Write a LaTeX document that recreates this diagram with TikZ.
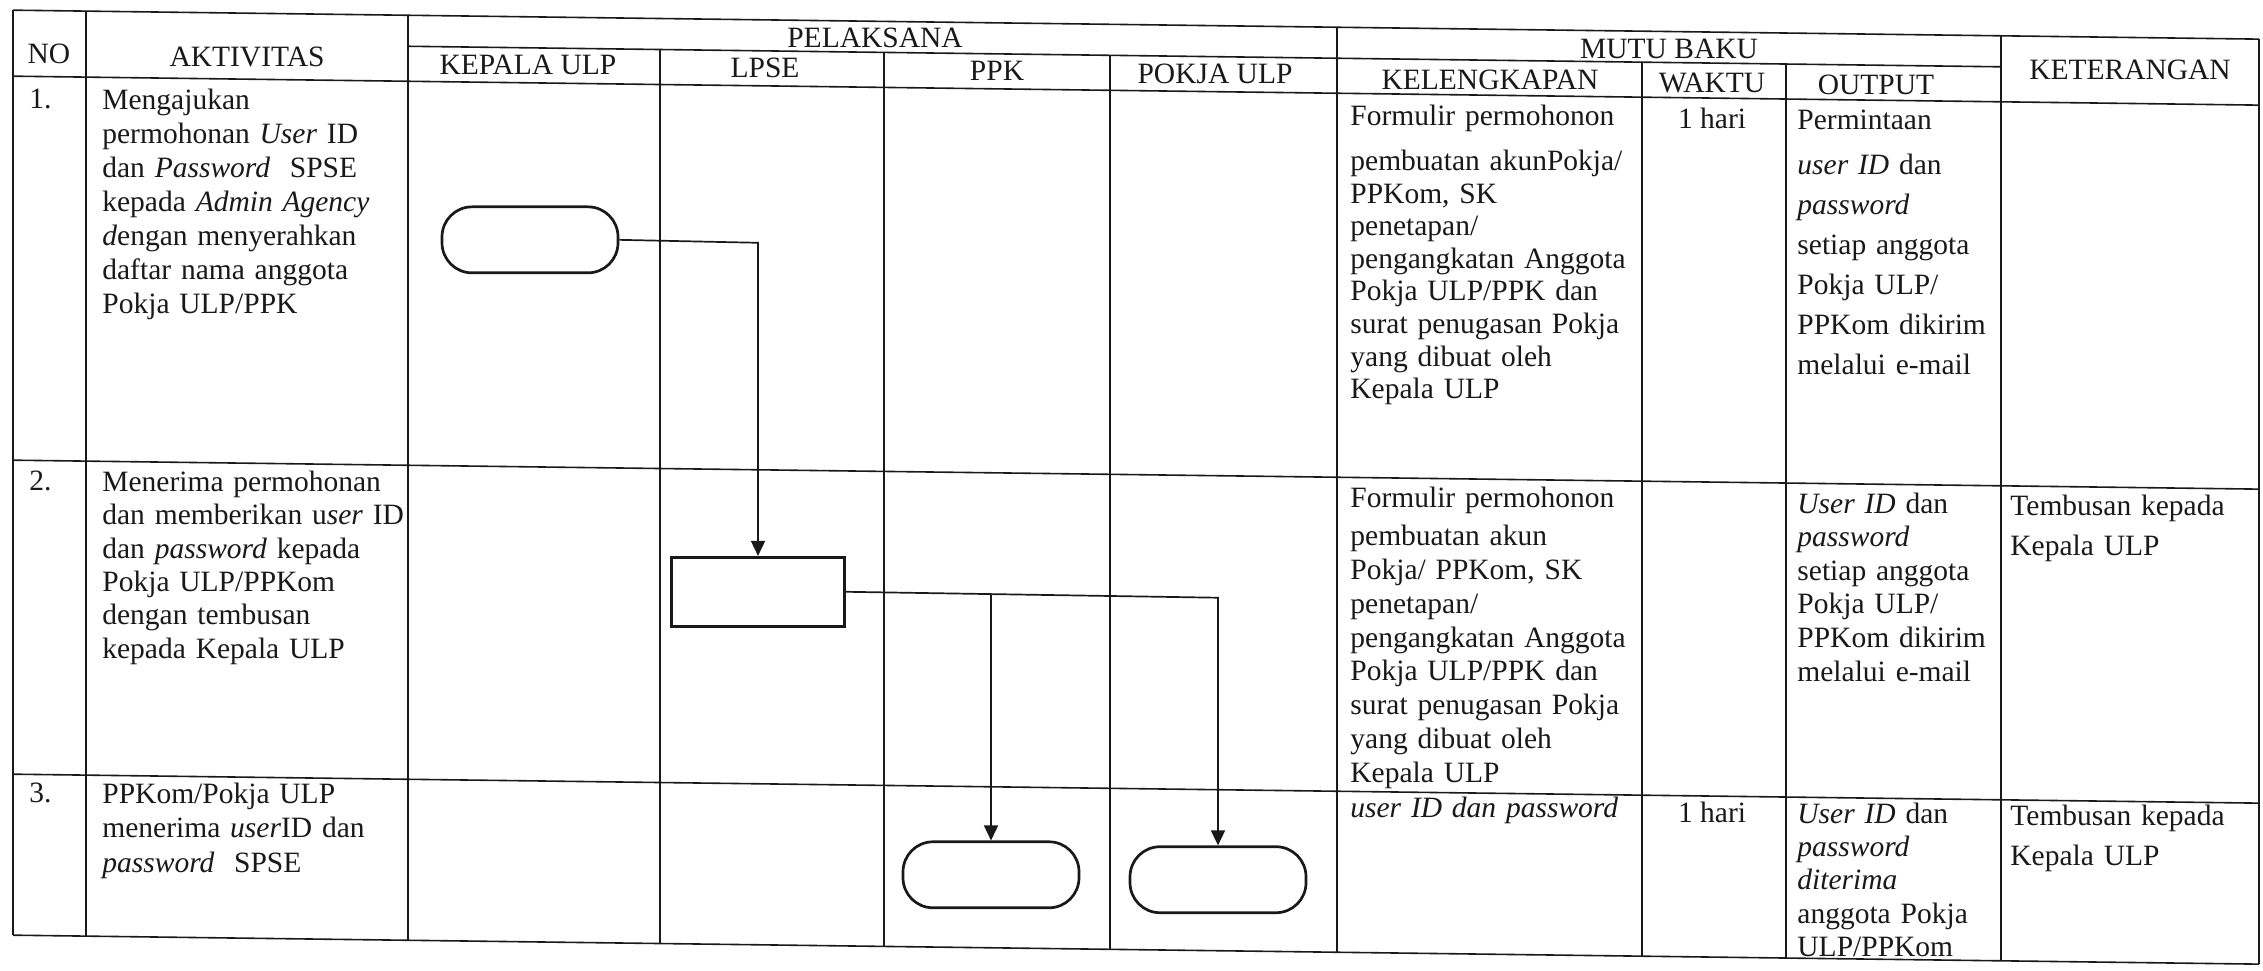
\documentclass[tikz,border=0pt]{standalone}
\usepackage{fontspec}
\setmainfont{Liberation Serif}
\usetikzlibrary{arrows.meta}

\definecolor{ink}{gray}{0.1}

\tikzset{
  rule/.style={draw=ink, line width=0.8pt},
  head/.style={text=ink, inner sep=0pt, anchor=base, font=\fontsize{14.75pt}{17pt}\selectfont},
  cell/.style={text=ink, inner sep=0pt, anchor=base west, align=left, text width=#1,
               font=\fontsize{14.75pt}{17pt}\selectfont},
  lead/.style={font=\fontsize{14.75pt}{#1}\selectfont},
  term/.style={draw=ink, line width=1.35pt, rounded corners=15pt, minimum width=88pt,
               minimum height=33pt, inner sep=0pt},
  proc/.style={draw=ink, line width=1.35pt, minimum width=86.5pt, minimum height=34.5pt,
               inner sep=0pt},
  link/.style={draw=ink, line width=0.85pt, -{Triangle[length=7.5pt,width=7pt]}},
}

\begin{document}
\begin{tikzpicture}[x=0.5pt, y=-0.5pt]
\useasboundingbox (0,0) rectangle (2263,970);
\fill[white] (0,0) rectangle (2263,970);

\begin{scope}[yslant=-0.0129]
% ---- table rules ----
\draw[rule] (13,10) -- (2259,10);
\draw[rule] (408,41) -- (2001,41);
\draw[rule] (13,76) -- (2259,76);
\draw[rule] (13,460) -- (2259,460);
\draw[rule] (13,774) -- (2259,774);
\draw[rule] (13,935) -- (2259,935);
\foreach \x in {13,86,408,1337,2001,2259} \draw[rule] (\x,10) -- (\x,935);
\foreach \x in {660,884,1110,1642,1786} \draw[rule] (\x,41) -- (\x,935);

% ---- header ----
\node[head] (hno)   at (49,63)   {NO};
\node[head] (hakt)  at (247,63)  {AKTIVITAS};
\node[head] (hpel)  at (875,36)  {PELAKSANA};
\node[head] (hmutu) at (1669,37) {MUTU BAKU};
\node[head] (hket)  at (2130,52) {KETERANGAN};
\node[head] (hkep)  at (528,68)  {KEPALA ULP};
\node[head] (hlpse) at (765,68)  {LPSE};
\node[head] (hppk)  at (997,68)  {PPK};
\node[head] (hpok)  at (1215,68) {POKJA ULP};
\node[head] (hkel)  at (1490,70) {KELENGKAPAN};
\node[head] (hwak)  at (1712,70) {WAKTU};
\node[head] (hout)  at (1876,70) {OUTPUT};

% ---- row 1 ----
\node[cell=30pt] (n1) at (29,108) {1.};
\node[cell=152pt] (a1) at (102,108) {Mengajukan\\
  permohonan \textit{User} ID\\
  dan \textit{Password}\ \ SPSE\\
  kepada \textit{Admin Agency}\\
  \textit{d}engan menyerahkan\\
  daftar nama anggota\\
  Pokja ULP/PPK};
\node[cell=145pt, lead=16.3pt] (k1) at (1350,108) {Formulir permohonon\\[6.2pt]
  pembuatan akunPokja/\\
  PPKom, SK\\
  penetapan/\\
  pengangkatan Anggota\\
  Pokja ULP/PPK dan\\
  surat penugasan Pokja\\
  yang dibuat oleh\\
  Kepala ULP};
\node[head] (w1) at (1712,106) {1 hari};
\node[cell=100pt, lead=20pt] (o1) at (1797,106) {Permintaan\\[2.5pt]
  \textit{user ID} dan\\
  \textit{password}\\
  setiap anggota\\
  Pokja ULP/\\
  PPKom dikirim\\
  melalui e-mail};

% ---- row 2 ----
\node[cell=30pt] (n2) at (29,490) {2.};
\node[cell=152pt, lead=16.7pt] (a2) at (102,490) {Menerima permohonan\\
  dan memberikan u\textit{ser} ID\\
  dan \textit{password} kepada\\
  Pokja ULP/PPKom\\
  dengan tembusan\\
  kepada Kepala ULP};
\node[cell=145pt, lead=16.95pt] (k2) at (1350,490) {Formulir permohonon\\[2pt]
  pembuatan akun\\
  Pokja/ PPKom, SK\\
  penetapan/\\
  pengangkatan Anggota\\
  Pokja ULP/PPK dan\\
  surat penugasan Pokja\\
  yang dibuat oleh\\
  Kepala ULP};
\node[cell=100pt, lead=16.8pt] (o2) at (1797,490) {\textit{User ID} dan\\
  \textit{password}\\
  setiap anggota\\
  Pokja ULP/\\
  PPKom dikirim\\
  melalui e-mail};
\node[cell=120pt, lead=20pt] (t2) at (2010,490) {Tembusan kepada\\
  Kepala ULP};

% ---- row 3 ----
\node[cell=30pt] (n3) at (29,802) {3.};
\node[cell=152pt, lead=17.2pt] (a3) at (102,802) {PPKom/Pokja ULP\\
  menerima \textit{user}ID dan\\
  \textit{password}\ \ SPSE};
\node[cell=145pt] (k3) at (1350,800) {\textit{user ID dan password}};
\node[head] (w3) at (1712,800) {1 hari};
\node[cell=100pt, lead=16.65pt] (o3) at (1797,800) {\textit{User ID} dan\\
  \textit{password}\\
  \textit{diterima}\\
  anggota Pokja\\
  ULP/PPKom};
\node[cell=120pt, lead=20pt] (t3) at (2010,800) {Tembusan kepada\\
  Kepala ULP};

% ---- flow symbols ----
\node[term] (s1) at (530,233) {};
\node[proc] (r1) at (758,582) {};
\node[term] (s3) at (991,862) {};
\node[term] (s2) at (1218,864) {};

\coordinate (b1) at (758,233);
\coordinate (b2) at (1218,582);
\coordinate (b3) at (991,582);

\draw[link] (s1.east) -- (b1) -- (r1.north);
\draw[link] (r1.east) -- (b2) -- (s2.north);
\draw[link] (b3) -- (s3.north);
\end{scope}
\end{tikzpicture}
\end{document}
